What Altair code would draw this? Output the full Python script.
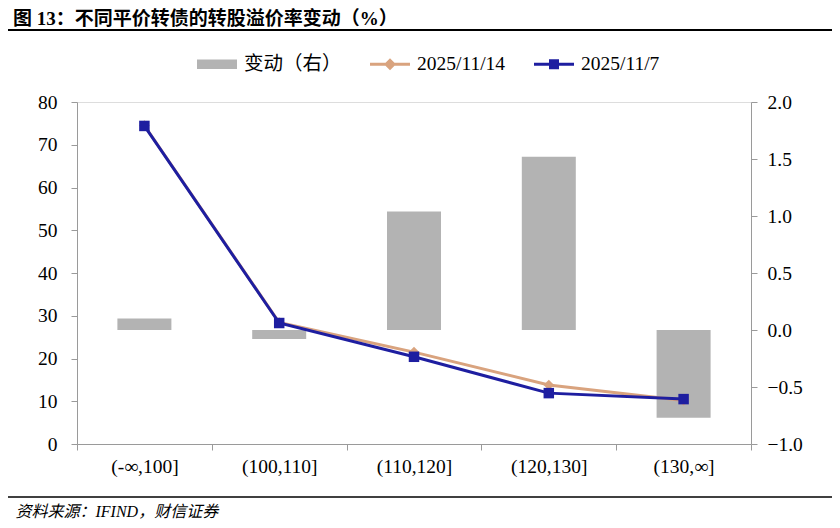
import altair as alt
import pandas as pd

# ---- data ----
cats = ["(-∞,100]", "(100,110]", "(110,120]", "(120,130]", "(130,∞]"]
change = [0.10, -0.08, 1.04, 1.52, -0.77]          # right axis, bars
nov14 = [74.5, 28.4, 21.5, 13.8, 10.2]             # left axis
nov7 = [74.4, 28.3, 20.4, 11.9, 10.5]              # left axis

series_names = ["变动（右）", "2025/11/14", "2025/11/7"]
series_colors = ["#B3B3B3", "#D9A37E", "#1E1EA0"]

title_text = "图 13：不同平价转债的转股溢价率变动（%）"
source_text = "资料来源：IFIND，财信证券"

left_ticks = [0, 10, 20, 30, 40, 50, 60, 70, 80]
right_ticks = [-1.0, -0.5, 0.0, 0.5, 1.0, 1.5, 2.0]

# ---- tables ----
df_bar = pd.DataFrame({"cat": cats, "change": change})
df_line = pd.DataFrame(
    {"cat": cats * 2,
     "series": ["2025/11/14"] * len(cats) + ["2025/11/7"] * len(cats),
     "value": nov14 + nov7}
)
df_legend = pd.DataFrame({"series": series_names})

SERIF = "Liberation Serif, Noto Sans CJK SC"
AX_GRAY = "#9A9A9A"
FS = 19.5

x_enc = alt.X(
    "cat:N", sort=cats,
    title=source_text,
    scale=alt.Scale(paddingInner=0, paddingOuter=0),
    axis=alt.Axis(labelAngle=0, tickBand="extent", tickSize=6, labelPadding=7,
                  domainColor=AX_GRAY, tickColor=AX_GRAY, labelFont=SERIF,
                  labelFontSize=FS, labelColor="black", grid=False,
                  titleFont=SERIF, titleFontSize=16, titleFontStyle="italic",
                  titleFontWeight="normal", titleColor="black",
                  titleAnchor="start", titleAlign="left", titleBaseline="middle",
                  titleX=-62, titleY=67),
)

bars = alt.Chart(df_bar).mark_bar(color=series_colors[0], width=54).encode(
    x=x_enc,
    y=alt.Y("change:Q", title=None,
            scale=alt.Scale(domain=[-1, 2], nice=False),
            axis=alt.Axis(orient="right", values=right_ticks, format=".1f",
                          tickSize=6, labelPadding=10, domainColor=AX_GRAY,
                          tickColor=AX_GRAY, labelFont=SERIF, labelFontSize=FS,
                          labelColor="black", grid=False)),
)

left_axis = alt.Axis(orient="left", values=left_ticks, tickSize=6, labelPadding=14,
                     domainColor=AX_GRAY, tickColor=AX_GRAY, labelFont=SERIF,
                     labelFontSize=FS, labelColor="black", grid=False)
y_left = alt.Y("value:Q", title=None, scale=alt.Scale(domain=[0, 80], nice=False),
               axis=left_axis)

base14 = alt.Chart(df_line).transform_filter(alt.datum.series == "2025/11/14")
base7 = alt.Chart(df_line).transform_filter(alt.datum.series == "2025/11/7")

l14 = base14.mark_line(color=series_colors[1], strokeWidth=3).encode(x=x_enc, y=y_left)
p14 = base14.mark_point(shape="diamond", filled=True, size=110, opacity=1,
                        color=series_colors[1]).encode(x=x_enc, y=y_left)
l7 = base7.mark_line(color=series_colors[2], strokeWidth=3).encode(x=x_enc, y=y_left)
p7 = base7.mark_point(shape="square", filled=True, size=110, opacity=1,
                      color=series_colors[2]).encode(x=x_enc, y=y_left)

lines = alt.layer(l14, p14, l7, p7)

legend_paths = [
    "M-1,-0.24H1V0.24H-1Z",
    "M-1,-0.075H1V0.075H-1Z M0,-0.3L0.3,0L0,0.3L-0.3,0Z",
    "M-1,-0.075H1V0.075H-1Z M-0.25,-0.25H0.25V0.25H-0.25Z",
]
leg = alt.Legend(title=None, orient="none", legendX=120, legendY=-58,
                 direction="horizontal", symbolSize=1600, symbolOpacity=1,
                 symbolStrokeWidth=0, labelFont=SERIF, labelFontSize=FS,
                 labelColor="black", labelOffset=7, columnPadding=28)
legend_layer = alt.Chart(df_legend).mark_point(filled=True, opacity=0).encode(
    color=alt.Color("series:N", scale=alt.Scale(domain=series_names, range=series_colors),
                    legend=leg),
    shape=alt.Shape("series:N", scale=alt.Scale(domain=series_names, range=legend_paths),
                    legend=leg),
)

one = alt.Data(values=[{}])
title_mark = alt.Chart(one).mark_text(text=title_text, align="left", baseline="middle",
                                      font=SERIF, fontSize=19, fontWeight="bold",
                                      color="black").encode(
    x=alt.value(-64), y=alt.value(-83))
top_rule = alt.Chart(one).mark_rule(color="black", strokeWidth=2).encode(
    x=alt.value(-72), x2=alt.value(755), y=alt.value(-72))
bottom_rule = alt.Chart(one).mark_rule(color="black", strokeWidth=1.5).encode(
    x=alt.value(-72), x2=alt.value(755), y=alt.value(395))

chart = alt.layer(bars, lines, legend_layer, title_mark, top_rule, bottom_rule
                  ).resolve_scale(y="independent").properties(
    width=674, height=342,
    autosize=alt.AutoSizeParams(type="none"),
    padding={"left": 69, "top": 94, "right": 81, "bottom": 76},
).configure_view(stroke=None).configure(background="white")

chart.save("out.html", embed_options={"renderer": "svg", "actions": False})
